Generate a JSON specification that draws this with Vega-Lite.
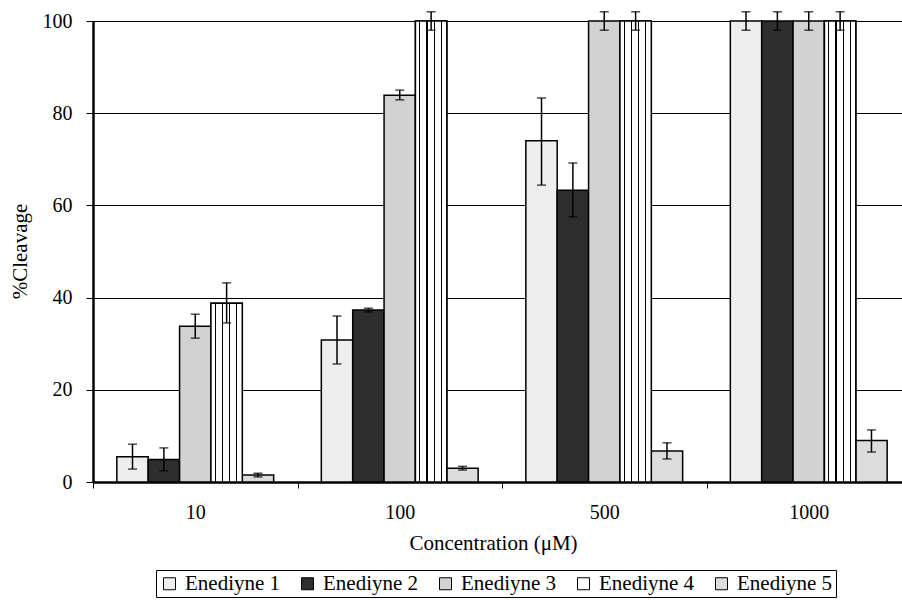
{
  "$schema": "https://vega.github.io/schema/vega-lite/v6.json",
  "width": 809,
  "height": 461,
  "autosize": "none",
  "padding": {"left": 93, "top": 21, "right": 0, "bottom": 118},
  "background": "white",
  "config": {
    "view": {"stroke": null},
    "font": "Liberation Serif, Times New Roman, DejaVu Serif, serif",
    "axis": {
      "labelFont": "Liberation Serif, Times New Roman, DejaVu Serif, serif",
      "titleFont": "Liberation Serif, Times New Roman, DejaVu Serif, serif",
      "labelColor": "black",
      "titleColor": "black",
      "titleFontWeight": "normal",
      "tickColor": "black",
      "domainColor": "black"
    },
    "legend": {
      "labelFont": "Liberation Serif, Times New Roman, DejaVu Serif, serif"
    }
  },
  "data": {
    "values": [
      {"conc": "10", "series": "Enediyne 1", "pct": 5.5, "lo": 2.8, "hi": 8.2},
      {"conc": "10", "series": "Enediyne 2", "pct": 4.9, "lo": 2.4, "hi": 7.4},
      {"conc": "10", "series": "Enediyne 3", "pct": 33.8, "lo": 31.2, "hi": 36.4},
      {"conc": "10", "series": "Enediyne 4", "pct": 38.8, "lo": 34.5, "hi": 43.2},
      {"conc": "10", "series": "Enediyne 5", "pct": 1.5, "lo": 1.1, "hi": 1.9},
      {"conc": "100", "series": "Enediyne 1", "pct": 30.8, "lo": 25.6, "hi": 36.0},
      {"conc": "100", "series": "Enediyne 2", "pct": 37.3, "lo": 36.9, "hi": 37.7},
      {"conc": "100", "series": "Enediyne 3", "pct": 83.9, "lo": 82.9, "hi": 85.0},
      {"conc": "100", "series": "Enediyne 4", "pct": 100, "lo": 98, "hi": 102},
      {"conc": "100", "series": "Enediyne 5", "pct": 3.0, "lo": 2.6, "hi": 3.4},
      {"conc": "500", "series": "Enediyne 1", "pct": 74.0, "lo": 64.4, "hi": 83.3},
      {"conc": "500", "series": "Enediyne 2", "pct": 63.3, "lo": 57.5, "hi": 69.2},
      {"conc": "500", "series": "Enediyne 3", "pct": 100, "lo": 98, "hi": 102},
      {"conc": "500", "series": "Enediyne 4", "pct": 100, "lo": 98, "hi": 102},
      {"conc": "500", "series": "Enediyne 5", "pct": 6.7, "lo": 5.0, "hi": 8.5},
      {"conc": "1000", "series": "Enediyne 1", "pct": 100, "lo": 98, "hi": 102},
      {"conc": "1000", "series": "Enediyne 2", "pct": 100, "lo": 98, "hi": 102},
      {"conc": "1000", "series": "Enediyne 3", "pct": 100, "lo": 98, "hi": 102},
      {"conc": "1000", "series": "Enediyne 4", "pct": 100, "lo": 98, "hi": 102},
      {"conc": "1000", "series": "Enediyne 5", "pct": 9.0, "lo": 6.5, "hi": 11.3}
    ]
  },
  "encoding": {
    "x": {
      "field": "conc",
      "type": "nominal",
      "sort": ["10", "100", "500", "1000"],
      "scale": {"paddingInner": 0, "paddingOuter": 0, "range": [0, 818]},
      "axis": {
        "title": "Concentration (μM)",
        "titleFontSize": 21,
        "titleX": 400,
        "titleY": 67,
        "titleBaseline": "alphabetic",
        "titleAlign": "center",
        "labelFontSize": 20,
        "labelAngle": 0,
        "labelBaseline": "alphabetic",
        "labelPadding": 30,
        "tickSize": 6,
        "tickWidth": 1,
        "tickBand": "extent",
        "domain": true,
        "domainWidth": 2.5,
        "grid": false
      }
    },
    "xOffset": {
      "field": "series",
      "type": "nominal",
      "scale": {"paddingInner": 0, "paddingOuter": 0.76}
    }
  },
  "layer": [
    {
      "mark": {"type": "bar", "stroke": "black", "strokeWidth": 1.5},
      "encoding": {
        "y": {
          "field": "pct",
          "type": "quantitative",
          "scale": {"domain": [0, 100], "nice": false},
          "axis": {
            "title": "%Cleavage",
            "titleFontSize": 21,
            "titleX": -67,
            "titleY": 230,
            "titleAngle": -90,
            "titleAlign": "center",
            "titleBaseline": "alphabetic",
            "values": [0, 20, 40, 60, 80, 100],
            "labelFontSize": 20,
            "labelPadding": 14,
            "tickSize": 7,
            "tickWidth": 1,
            "domain": true,
            "domainWidth": 2.5,
            "grid": true,
            "gridColor": "black",
            "gridOpacity": 1,
            "gridWidth": 1
          }
        },
        "fill": {
          "field": "series",
          "type": "nominal",
          "scale": {
            "domain": ["Enediyne 1", "Enediyne 2", "Enediyne 3", "Enediyne 4", "Enediyne 5"],
            "range": ["#eeeeee", "#2e2e2e", "#d2d2d2", "#ffffff", "#dcdcdc"]
          },
          "legend": {
            "title": null,
            "orient": "none",
            "legendX": 63,
            "legendY": 549,
            "direction": "horizontal",
            "columns": 5,
            "strokeColor": "black",
            "padding": 3,
            "symbolType": "square",
            "symbolSize": 144,
            "symbolStrokeColor": "black",
            "symbolStrokeWidth": 1,
            "labelFontSize": 21,
            "labelColor": "black",
            "labelOffset": 5,
            "columnPadding": 16
          }
        }
      }
    },
    {
      "transform": [{"filter": "datum.series === 'Enediyne 4'"}],
      "mark": {
        "type": "bar",
        "stroke": "black",
        "strokeWidth": 1.5,
        "color": {
          "gradient": "linear",
          "x1": 0, "y1": 0, "x2": 1, "y2": 0,
          "stops": [
            {"offset": 0, "color": "white"},
            {"offset": 0.12, "color": "white"},
            {"offset": 0.12, "color": "black"},
            {"offset": 0.155, "color": "black"},
            {"offset": 0.155, "color": "white"},
            {"offset": 0.35, "color": "white"},
            {"offset": 0.35, "color": "black"},
            {"offset": 0.385, "color": "black"},
            {"offset": 0.385, "color": "white"},
            {"offset": 0.58, "color": "white"},
            {"offset": 0.58, "color": "black"},
            {"offset": 0.615, "color": "black"},
            {"offset": 0.615, "color": "white"},
            {"offset": 0.81, "color": "white"},
            {"offset": 0.81, "color": "black"},
            {"offset": 0.845, "color": "black"},
            {"offset": 0.845, "color": "white"},
            {"offset": 1, "color": "white"}
          ]
        }
      },
      "encoding": {
        "y": {"field": "pct", "type": "quantitative"}
      }
    },
    {
      "mark": {"type": "rule", "color": "black", "strokeWidth": 1.5},
      "encoding": {
        "y": {"field": "lo", "type": "quantitative"},
        "y2": {"field": "hi"}
      }
    },
    {
      "mark": {"type": "tick", "color": "black", "size": 9, "thickness": 1.5},
      "encoding": {
        "y": {"field": "lo", "type": "quantitative"}
      }
    },
    {
      "mark": {"type": "tick", "color": "black", "size": 9, "thickness": 1.5},
      "encoding": {
        "y": {"field": "hi", "type": "quantitative"}
      }
    }
  ]
}
